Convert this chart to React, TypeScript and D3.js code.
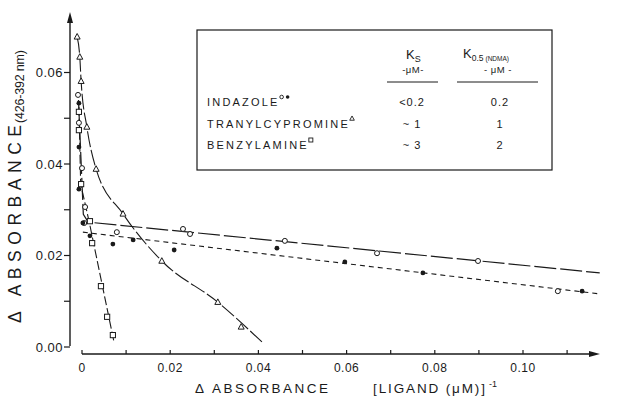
import { useEffect, useRef } from 'react';
import * as d3 from 'd3';

// x = ΔA/[ligand], y = ΔA
const tranylX = [-0.0011, -0.0005, -0.0002, 0.0011, 0.0032, 0.0093, 0.0181, 0.0308, 0.0361];
const tranylY = [0.0678, 0.0634, 0.0581, 0.0481, 0.0389, 0.0291, 0.0188, 0.0098, 0.0044];
const tranylFitX = [-0.0011, -0.0005, -0.0002, 0.0011, 0.0032, 0.0093, 0.0181, 0.0308, 0.0408];
const tranylFitY = [0.0678, 0.0634, 0.0581, 0.0481, 0.0389, 0.0291, 0.0188, 0.0098, 0.0011];

const benzylX = [-0.0007, -0.0007, -0.0002, 0.0018, 0.0023, 0.0043, 0.0057, 0.0070];
const benzylY = [0.0514, 0.0474, 0.0356, 0.0275, 0.0227, 0.0133, 0.0066, 0.0026];
const benzylFitX = [-0.0007, -0.0003, 0.0016, 0.0073];
const benzylFitY = [0.0525, 0.0356, 0.0275, 0.0009];

const indazoleOpenX = [-0.0009, -0.0007, 0.0, 0.0007, 0.0005, 0.0079, 0.0229, 0.0245, 0.046, 0.0669, 0.0898, 0.1079];
const indazoleOpenY = [0.0551, 0.049, 0.0391, 0.0306, 0.0271, 0.0251, 0.0258, 0.0247, 0.0232, 0.0205, 0.0188, 0.0122];
const indazoleFilledX = [-0.0007, -0.0007, -0.0007, 0.0002, 0.0018, 0.007, 0.0116, 0.0209, 0.0442, 0.0596, 0.0773, 0.1134];
const indazoleFilledY = [0.0533, 0.0437, 0.0345, 0.0271, 0.0243, 0.0225, 0.0234, 0.0212, 0.0216, 0.0186, 0.0162, 0.0122];
const openFitX = [-0.0008, 0.0003, 0.0014, 0.1174];
const openFitY = [0.054, 0.029, 0.0273, 0.0162];
const filledFitX = [0.0002, 0.1174];
const filledFitY = [0.0251, 0.0116];

const xTicks = [0, 0.01, 0.02, 0.03, 0.04, 0.05, 0.06, 0.07, 0.08, 0.09, 0.1, 0.11];
const xTickLabels = ['0', '0.02', '0.04', '0.06', '0.08', '0.10'];
const yTicks = [0, 0.01, 0.02, 0.03, 0.04, 0.05, 0.06];
const yTickLabels = ['0.00', '0.02', '0.04', '0.06'];

const ligands = ['INDAZOLE', 'TRANYLCYPROMINE', 'BENZYLAMINE'];
const ligandMarks = [['open', 'filled'], ['triangle'], ['square']];
const ksValues = ['<0.2', '~ 1', '~ 3'];
const k05Values = ['0.2', '1', '2'];

const Chart = () => {
  const ref = useRef<SVGSVGElement>(null);
  const width = 619;
  const height = 397;
  const ink = '#1a1a1a';
  const font = '"Liberation Sans", Arial, sans-serif';

  useEffect(() => {
    const svg = d3.select(ref.current);
    svg.selectAll('*').remove();

    const x = d3.scaleLinear().domain([0, 0.1]).range([82, 523]);
    const y = d3.scaleLinear().domain([0, 0.06]).range([347, 72.5]);
    const yAxisX = 70;
    const xAxisY = 354;

    const tri = (cx: number, cy: number, s: number) =>
      `M${cx},${cy - 1.1 * s} L${cx + s},${cy + 0.75 * s} L${cx - s},${cy + 0.75 * s} Z`;

    // axes
    svg.append('line').attr('x1', yAxisX).attr('x2', yAxisX)
      .attr('y1', y(0) - 1).attr('y2', 20)
      .attr('stroke', ink).attr('stroke-width', 1.4);
    svg.append('path').attr('d', `M${yAxisX},12 L${yAxisX - 3},23 L${yAxisX + 3},23 Z`).attr('fill', ink);

    svg.append('line').attr('x1', x(0)).attr('x2', 592)
      .attr('y1', xAxisY).attr('y2', xAxisY)
      .attr('stroke', ink).attr('stroke-width', 1.4);
    svg.append('path').attr('d', `M600,${xAxisY} L589,${xAxisY - 3} L589,${xAxisY + 3} Z`).attr('fill', ink);

    svg.append('g').selectAll('line').data(yTicks).join('line')
      .attr('x1', yAxisX - 6).attr('x2', yAxisX)
      .attr('y1', d => y(d)).attr('y2', d => y(d))
      .attr('stroke', ink).attr('stroke-width', 1.2);
    svg.append('g').selectAll('text').data(yTickLabels).join('text')
      .attr('x', yAxisX - 7).attr('y', d => y(+d) + 4.5)
      .attr('text-anchor', 'end').attr('font-size', 13).attr('letter-spacing', 0.5)
      .attr('font-family', font).attr('fill', ink)
      .text(d => d);

    svg.append('g').selectAll('line').data(xTicks).join('line')
      .attr('x1', d => x(d)).attr('x2', d => x(d))
      .attr('y1', xAxisY - 4).attr('y2', xAxisY)
      .attr('stroke', ink).attr('stroke-width', 1.2);
    svg.append('g').selectAll('text').data(xTickLabels).join('text')
      .attr('x', d => x(+d)).attr('y', 372)
      .attr('text-anchor', 'middle').attr('font-size', 12).attr('letter-spacing', 0.5)
      .attr('font-family', font).attr('fill', ink)
      .text(d => d);

    // axis titles
    const xt = svg.append('text').attr('font-family', font).attr('font-size', 13.5).attr('fill', ink);
    xt.append('tspan').attr('x', 195).attr('y', 393)
      .attr('textLength', 133).attr('lengthAdjust', 'spacing').text('Δ ABSORBANCE');
    xt.append('tspan').attr('x', 373).attr('y', 393)
      .attr('textLength', 112).attr('lengthAdjust', 'spacing').text('[LIGAND (μM)]');
    xt.append('tspan').attr('x', 489).attr('y', 387).attr('font-size', 9).text('-1');

    const yt = svg.append('text').attr('transform', 'translate(21,323) rotate(-90)')
      .attr('font-family', font).attr('font-size', 17.5).attr('fill', ink);
    yt.append('tspan').attr('x', 0).attr('y', 0)
      .attr('textLength', 198).attr('lengthAdjust', 'spacing').text('Δ ABSORBANCE');
    yt.append('tspan').attr('x', 200).attr('y', 3).attr('font-size', 12.5)
      .attr('textLength', 73).attr('lengthAdjust', 'spacing').text('(426-392 nm)');

    // fitted lines
    const line = (xs: number[], ys: number[], curve) =>
      d3.line<number>().x(i => x(xs[i])).y(i => y(ys[i])).curve(curve)(d3.range(xs.length));

    svg.append('path').attr('d', line(tranylFitX, tranylFitY, d3.curveMonotoneX))
      .attr('fill', 'none').attr('stroke', ink).attr('stroke-width', 1.1).attr('stroke-dasharray', '16,3');
    svg.append('path').attr('d', line(benzylFitX, benzylFitY, d3.curveLinear))
      .attr('fill', 'none').attr('stroke', ink).attr('stroke-width', 1.1).attr('stroke-dasharray', '9,3');
    svg.append('path').attr('d', line(openFitX, openFitY, d3.curveLinear))
      .attr('fill', 'none').attr('stroke', ink).attr('stroke-width', 1.2).attr('stroke-dasharray', '22,4');
    svg.append('path').attr('d', line(filledFitX, filledFitY, d3.curveLinear))
      .attr('fill', 'none').attr('stroke', ink).attr('stroke-width', 1.1).attr('stroke-dasharray', '5,4');

    // markers
    svg.append('g').selectAll('path').data(d3.range(tranylX.length)).join('path')
      .attr('d', i => tri(x(tranylX[i]), y(tranylY[i]), 3))
      .attr('fill', 'white').attr('stroke', ink).attr('stroke-width', 1);
    svg.append('g').selectAll('rect').data(d3.range(benzylX.length)).join('rect')
      .attr('x', i => x(benzylX[i]) - 2.6).attr('y', i => y(benzylY[i]) - 2.6)
      .attr('width', 5.2).attr('height', 5.2)
      .attr('fill', 'white').attr('stroke', ink).attr('stroke-width', 1);
    svg.append('g').selectAll('circle').data(d3.range(indazoleOpenX.length)).join('circle')
      .attr('cx', i => x(indazoleOpenX[i])).attr('cy', i => y(indazoleOpenY[i])).attr('r', 2.5)
      .attr('fill', 'white').attr('stroke', ink).attr('stroke-width', 1);
    svg.append('g').selectAll('circle').data(d3.range(indazoleFilledX.length)).join('circle')
      .attr('cx', i => x(indazoleFilledX[i])).attr('cy', i => y(indazoleFilledY[i])).attr('r', 2.4)
      .attr('fill', ink);

    // table box
    const box = svg.append('g').attr('font-family', font).attr('fill', ink);
    box.append('rect').attr('x', 197).attr('y', 30).attr('width', 355).attr('height', 140)
      .attr('fill', 'white').attr('stroke', ink).attr('stroke-width', 1.2);

    const ks = box.append('text').attr('x', 406).attr('y', 59).attr('font-size', 13);
    ks.append('tspan').text('K');
    ks.append('tspan').attr('dy', 3).attr('font-size', 9).text('S');
    box.append('text').attr('x', 413).attr('y', 73).attr('text-anchor', 'middle')
      .attr('font-size', 9.5).attr('letter-spacing', 0.5).text('-μM-');
    const k05 = box.append('text').attr('x', 463).attr('y', 58).attr('font-size', 13);
    k05.append('tspan').text('K');
    k05.append('tspan').attr('dy', 3).attr('font-size', 8.5).text('0.5');
    k05.append('tspan').attr('font-size', 6.5).attr('dx', 2).text('(NDMA)');
    box.append('text').attr('x', 498).attr('y', 73).attr('text-anchor', 'middle')
      .attr('font-size', 9.5).attr('letter-spacing', 0.5).text('- μM -');
    box.append('line').attr('x1', 387).attr('x2', 438).attr('y1', 82).attr('y2', 82)
      .attr('stroke', ink).attr('stroke-width', 1);
    box.append('line').attr('x1', 457).attr('x2', 538).attr('y1', 82).attr('y2', 82)
      .attr('stroke', ink).attr('stroke-width', 1);

    const rowY = d3.scalePoint().domain(ligands).range([106, 149]);
    ligands.forEach((name, i) => {
      const ty = rowY(name);
      const t = box.append('text').attr('x', 207).attr('y', ty)
        .attr('font-size', 11).attr('letter-spacing', 2.2).text(name);
      const len = (t.node() as SVGTextElement).getComputedTextLength();
      ligandMarks[i].forEach((m, j) => {
        const mx = 207 + len + 2 + j * 6;
        const my = ty - 9;
        if (m === 'open') {
          box.append('circle').attr('cx', mx).attr('cy', my).attr('r', 1.8)
            .attr('fill', 'white').attr('stroke', ink).attr('stroke-width', 0.9);
        } else if (m === 'filled') {
          box.append('circle').attr('cx', mx).attr('cy', my).attr('r', 1.8).attr('fill', ink);
        } else if (m === 'triangle') {
          box.append('path').attr('d', tri(mx, my, 2.3))
            .attr('fill', 'white').attr('stroke', ink).attr('stroke-width', 0.9);
        } else {
          box.append('rect').attr('x', mx - 2).attr('y', my - 2).attr('width', 4).attr('height', 4)
            .attr('fill', 'white').attr('stroke', ink).attr('stroke-width', 0.9);
        }
      });
      box.append('text').attr('x', 412).attr('y', ty).attr('text-anchor', 'middle')
        .attr('font-size', 11).attr('letter-spacing', 1).text(ksValues[i]);
      box.append('text').attr('x', 500).attr('y', ty).attr('text-anchor', 'middle')
        .attr('font-size', 11).attr('letter-spacing', 1).text(k05Values[i]);
    });
  }, []);

  return (
    <svg
      ref={ref}
      width={width}
      height={height}
      viewBox={`0 0 ${width} ${height}`}
      style={{ position: 'absolute', left: 0, top: 0, background: 'white' }}
    />
  );
};

export default function App() {
  return <Chart />;
}
